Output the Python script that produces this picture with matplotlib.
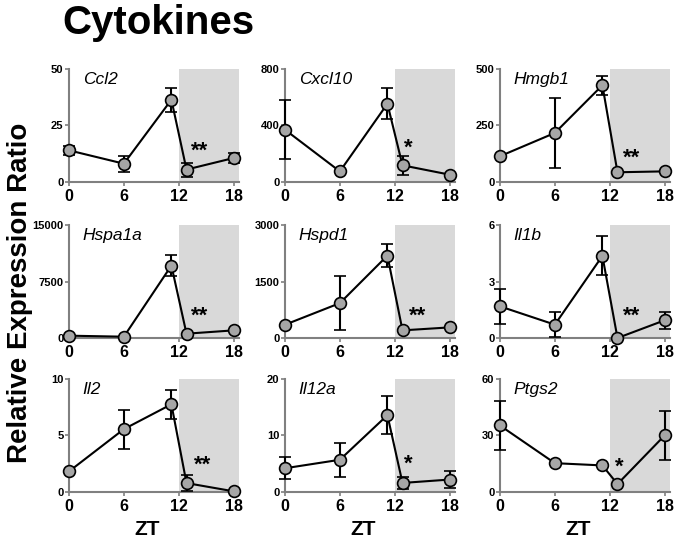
import matplotlib
matplotlib.use("Agg")
import matplotlib.pyplot as plt

plt.rcParams['font.family'] = ['Liberation Sans', 'DejaVu Sans']

# ---- data ----
zt = [0, 6, 11.2, 12.85, 18]
genes = ["Ccl2", "Cxcl10", "Hmgb1", "Hspa1a", "Hspd1", "Il1b", "Il2", "Il12a", "Ptgs2"]
ccl2 = [14, 8.1, 36.4, 5.5, 10.6]
ccl2_err = [2, 3.6, 5.3, 3.1, 2.4]
cxcl10 = [370, 75, 554, 118, 52]
cxcl10_err = [208, 0, 110, 65, 0]
hmgb1 = [114, 217, 428, 43, 47]
hmgb1_err = [0, 155, 42, 0, 0]
hspa1a = [310, 176, 9618, 574, 1015]
hspa1a_err = [0, 0, 1400, 0, 0]
hspd1 = [353, 926, 2188, 203, 282]
hspd1_err = [0, 715, 300, 0, 0]
il1b = [1.68, 0.71, 4.36, 0.0, 0.94]
il1b_err = [0.93, 0.67, 1.04, 0, 0.46]
il2 = [1.82, 5.56, 7.76, 0.79, 0.06]
il2_err = [0, 1.73, 1.3, 0.7, 0]
il12a = [4.2, 5.7, 13.6, 1.6, 2.2]
il12a_err = [1.95, 3.0, 3.4, 1.1, 1.5]
ptgs2 = [35.3, 15.3, 14.1, 4.2, 30]
ptgs2_err = [12.8, 0, 0, 0, 13]

values = [ccl2, cxcl10, hmgb1, hspa1a, hspd1, il1b, il2, il12a, ptgs2]
errors = [ccl2_err, cxcl10_err, hmgb1_err, hspa1a_err, hspd1_err, il1b_err, il2_err, il12a_err, ptgs2_err]
yticks = [[0, 25, 50], [0, 400, 800], [0, 250, 500],
          [0, 7500, 15000], [0, 1500, 3000], [0, 3, 6],
          [0, 5, 10], [0, 10, 20], [0, 30, 60]]
stars = ["**", "*", "**", "**", "**", "**", "**", "*", "*"]
star_pos = [(14.3, 0.27), (13.5, 0.30), (14.4, 0.21), (14.3, 0.19), (14.5, 0.19),
            (14.4, 0.19), (14.6, 0.24), (13.5, 0.25), (13.0, 0.22)]
xticks = [0, 6, 12, 18]

fig = plt.figure(figsize=(6.75, 5.41), dpi=100)

lefts = [0.1022, 0.4222, 0.7407]
bottoms = [0.6636, 0.3752, 0.0906]
w, h = 0.252, 0.2089
spine_c = '#808080'

for i in range(9):
    r, c = divmod(i, 3)
    ax = fig.add_axes([lefts[c], bottoms[r], w, h])
    ax.axvspan(12, 18.6, color='#d9d9d9', lw=0, zorder=0)
    ax.errorbar(zt, values[i], yerr=errors[i], color='black', lw=1.5,
                ecolor='black', elinewidth=1.5, capsize=4.5, capthick=1.5,
                marker='o', markersize=8.5, markerfacecolor='#a6a6a6',
                markeredgecolor='black', markeredgewidth=1.2, clip_on=False, zorder=3)
    ax.set_xlim(0, 18.6)
    ax.set_ylim(0, yticks[i][-1])
    ax.set_yticks(yticks[i])
    ax.set_yticklabels([str(t) for t in yticks[i]], fontsize=8, fontweight='bold')
    ax.set_xticks(xticks)
    ax.set_xticklabels([str(t) for t in xticks], fontsize=11.5, fontweight='bold')
    for s in ['top', 'right']:
        ax.spines[s].set_visible(False)
    for s in ['left', 'bottom']:
        ax.spines[s].set_color(spine_c)
        ax.spines[s].set_linewidth(1.5)
    ax.tick_params(axis='both', direction='out', length=3, width=1.2, color=spine_c, pad=1)
    ax.tick_params(axis='x', pad=2)
    ax.text(0.08, 0.97, genes[i], transform=ax.transAxes, fontsize=12.5,
            fontstyle='italic', va='top', ha='left')
    sx, sy = star_pos[i]
    ax.text(sx, sy, stars[i], transform=ax.get_xaxis_transform(), fontsize=16,
            fontweight='bold', ha='center', va='center')
    if r == 2:
        ax.text(0.46, -0.385, "ZT", transform=ax.transAxes, fontsize=15,
                fontweight='bold', ha='center', va='baseline')

fig.text(0.092, 0.992, "Cytokines", fontsize=29, fontweight='bold', va='top', ha='left')
fig.text(0.030, 0.458, "Relative Expression Ratio", fontsize=20, fontweight='bold',
         rotation=90, va='center', ha='center')

fig.savefig("out.png", dpi=100)
